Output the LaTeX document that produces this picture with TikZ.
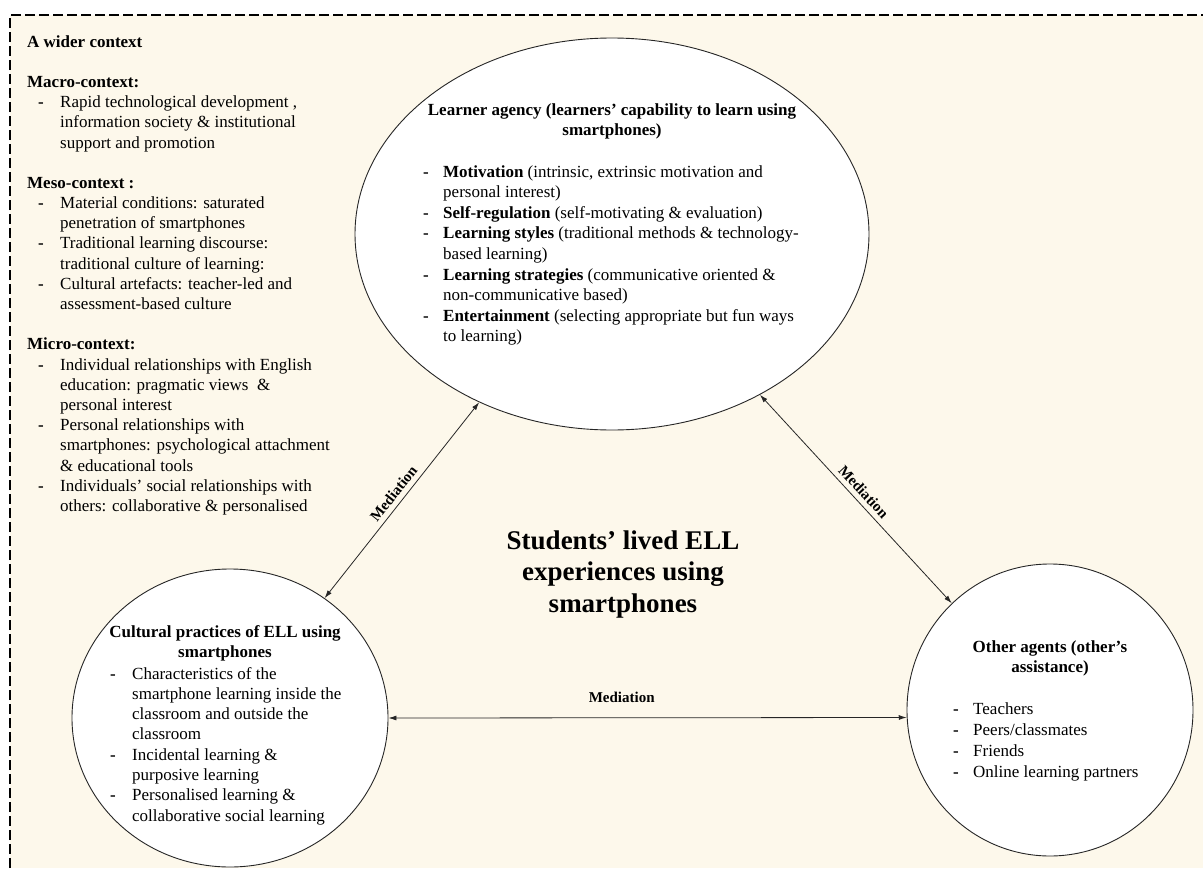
\documentclass[tikz,border=0pt]{standalone}
\usepackage{fontspec}
\setmainfont{Liberation Serif}
\usetikzlibrary{shapes.geometric,arrows.meta}
\definecolor{cream}{RGB}{253,248,235}
\newcommand{\bul}[1]{\makebox[#1][l]{\textbf{-}}}
\newcommand{\ind}[1]{\hspace*{#1}}
\begin{document}
\begin{tikzpicture}[x=1pt,y=-1pt,
  bubble/.style={ellipse, draw=black!85, fill=white, line width=0.9pt, inner sep=0pt},
  med/.style={draw=black!85, line width=0.8pt, {Latex[length=8pt,width=5pt]}-{Latex[length=8pt,width=5pt]}},
  medlab/.style={font=\fontsize{15}{18}\selectfont\bfseries, inner sep=1pt},
  txt/.style={inner sep=0pt, font=\fontsize{17}{20.4}\selectfont},
  frame/.style={dash pattern=on 10pt off 4pt, line width=1.6pt, black}]
\useasboundingbox (0,0) rectangle (1203,870);
\fill[cream] (10,15) rectangle (1203,868);
\draw[frame] (10,868) -- (10,15) -- (1203,15);

% shapes
\node[bubble, minimum width=514pt, minimum height=392pt] (la) at (612,234) {};
\node[bubble, minimum width=316pt, minimum height=298pt] (cp) at (230,718) {};
\node[bubble, minimum width=286pt, minimum height=292pt] (oa) at (1050,710) {};

% connectors
\draw[med] (cp) -- node[midway, above=4pt, sloped, medlab] (m1) {Mediation} (la);
\draw[med] (la) -- node[midway, above=4pt, sloped, medlab] (m2) {Mediation} (oa);
\draw[med] (cp.-0.4) -- node[pos=0.45, above=14pt, medlab, anchor=south] (m3) {Mediation} (oa.183.2);

% wider context
\node[txt, anchor=base west, font=\fontsize{17}{20.2}\selectfont] (ctx) at (27,47) {\begin{tabular}[t]{@{}l@{}}
\textbf{A wider context}\\
\\
\textbf{Macro-context:}\\
\ind{11pt}\bul{22pt}Rapid technological development ,\\
\ind{33pt}information society \& institutional\\
\ind{33pt}support and promotion\\
\\
\textbf{Meso-context :}\\
\ind{11pt}\bul{22pt}Material conditions: saturated\\
\ind{33pt}penetration of smartphones\\
\ind{11pt}\bul{22pt}Traditional learning discourse:\\
\ind{33pt}traditional culture of learning:\\
\ind{11pt}\bul{22pt}Cultural artefacts: teacher-led and\\
\ind{33pt}assessment-based culture\\
\\
\textbf{Micro-context:}\\
\ind{11pt}\bul{22pt}Individual relationships with English\\
\ind{33pt}education: pragmatic views~ \&\\
\ind{33pt}personal interest\\
\ind{11pt}\bul{22pt}Personal relationships with\\
\ind{33pt}smartphones: psychological attachment\\
\ind{33pt}\& educational tools\\
\ind{11pt}\bul{22pt}Individuals’ social relationships with\\
\ind{33pt}others: collaborative \& personalised
\end{tabular}};

% learner agency
\node[txt, anchor=base, font=\fontsize{17}{20.6}\selectfont\bfseries] (lat) at (612,115) {\begin{tabular}[t]{@{}c@{}}
Learner agency (learners’ capability to learn using\\
smartphones)
\end{tabular}};
\node[txt, anchor=base west, font=\fontsize{17}{20.6}\selectfont] (lai) at (423,177) {\begin{tabular}[t]{@{}l@{}}
\bul{20pt}\textbf{Motivation} (intrinsic, extrinsic motivation and\\
\ind{20pt}personal interest)\\
\bul{20pt}\textbf{Self-regulation} (self-motivating \& evaluation)\\
\bul{20pt}\textbf{Learning styles} (traditional methods \& technology-\\
\ind{20pt}based learning)\\
\bul{20pt}\textbf{Learning strategies} (communicative oriented \&\\
\ind{20pt}non-communicative based)\\
\bul{20pt}\textbf{Entertainment} (selecting appropriate but fun ways\\
\ind{20pt}to learning)
\end{tabular}};

% cultural practices
\node[txt, anchor=base, font=\fontsize{17}{20.6}\selectfont\bfseries] (cpt) at (225,637) {\begin{tabular}[t]{@{}c@{}}
Cultural practices of ELL using\\
smartphones
\end{tabular}};
\node[txt, anchor=base west, font=\fontsize{17}{20.3}\selectfont] (cpi) at (110,679) {\begin{tabular}[t]{@{}l@{}}
\bul{22pt}Characteristics of the\\
\ind{22pt}smartphone learning inside the\\
\ind{22pt}classroom and outside the\\
\ind{22pt}classroom\\
\bul{22pt}Incidental learning \&\\
\ind{22pt}purposive learning\\
\bul{22pt}Personalised learning \&\\
\ind{22pt}collaborative social learning
\end{tabular}};

% other agents
\node[txt, anchor=base, font=\fontsize{17}{20.8}\selectfont\bfseries] (oat) at (1050,652) {\begin{tabular}[t]{@{}c@{}}
Other agents (other’s\\
assistance)
\end{tabular}};
\node[txt, anchor=base west, font=\fontsize{17}{21.2}\selectfont] (oai) at (953,714) {\begin{tabular}[t]{@{}l@{}}
\bul{20pt}Teachers\\
\bul{20pt}Peers/classmates\\
\bul{20pt}Friends\\
\bul{20pt}Online learning partners
\end{tabular}};

% centre
\node[txt, anchor=base, font=\fontsize{27}{31.5}\selectfont\bfseries] (ctr) at (623,549) {\begin{tabular}[t]{@{}c@{}}
Students’ lived ELL\\
experiences using\\
smartphones
\end{tabular}};
\end{tikzpicture}
\end{document}
